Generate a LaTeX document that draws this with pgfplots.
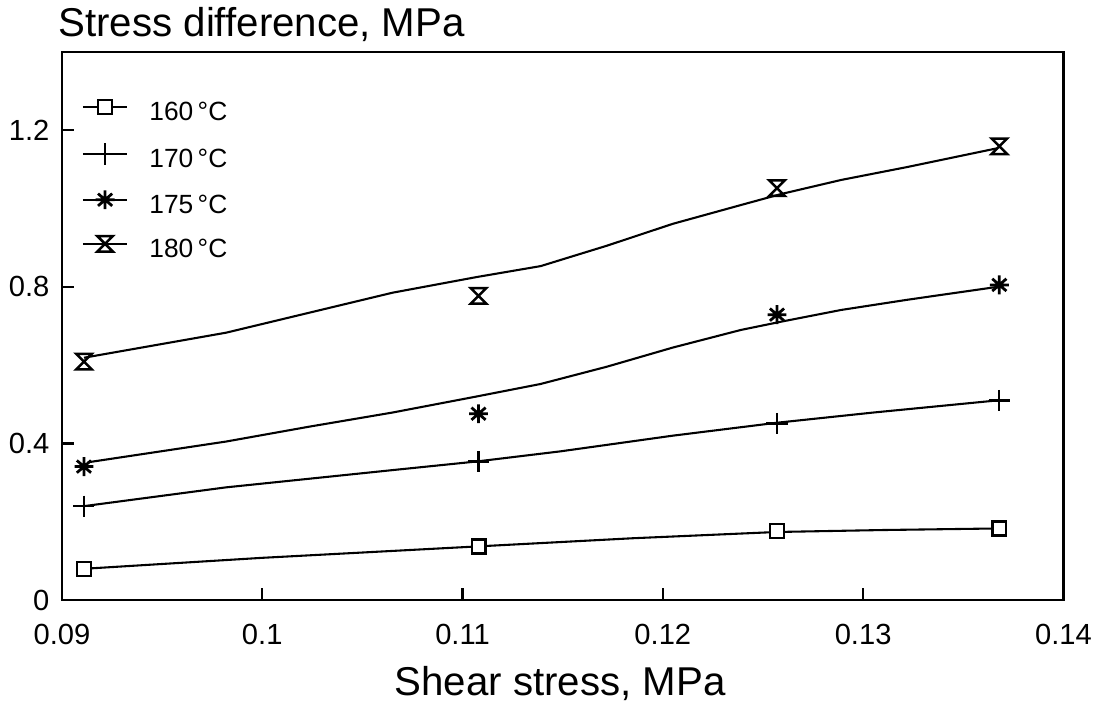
\documentclass[border=0pt]{standalone}
\usepackage{fontspec}
\setmainfont{Liberation Sans}
\usepackage{pgfplots}
\pgfplotsset{compat=1.18}

% hourglass marker: top bar, crossing diagonals, bottom bar
\pgfdeclareplotmark{hourglass}{%
  \pgfpathmoveto{\pgfqpoint{-\pgfplotmarksize}{\pgfplotmarksize}}%
  \pgfpathlineto{\pgfqpoint{\pgfplotmarksize}{\pgfplotmarksize}}%
  \pgfpathlineto{\pgfqpoint{-\pgfplotmarksize}{-\pgfplotmarksize}}%
  \pgfpathlineto{\pgfqpoint{\pgfplotmarksize}{-\pgfplotmarksize}}%
  \pgfpathclose
  \pgfusepathqstroke}

% eight-armed star marker
\pgfdeclareplotmark{star8}{%
  \pgfpathmoveto{\pgfqpoint{0pt}{\pgfplotmarksize}}%
  \pgfpathlineto{\pgfqpoint{0pt}{-\pgfplotmarksize}}%
  \pgfpathmoveto{\pgfqpoint{-\pgfplotmarksize}{0pt}}%
  \pgfpathlineto{\pgfqpoint{\pgfplotmarksize}{0pt}}%
  \pgfpathmoveto{\pgfqpoint{-0.75\pgfplotmarksize}{0.65\pgfplotmarksize}}%
  \pgfpathlineto{\pgfqpoint{0.75\pgfplotmarksize}{-0.65\pgfplotmarksize}}%
  \pgfpathmoveto{\pgfqpoint{-0.75\pgfplotmarksize}{-0.65\pgfplotmarksize}}%
  \pgfpathlineto{\pgfqpoint{0.75\pgfplotmarksize}{0.65\pgfplotmarksize}}%
  \pgfusepathqstroke}

\begin{document}
\begin{tikzpicture}
\begin{axis}[
  scale only axis, width=361.08pt, height=197.64pt,
  xmin=0.09, xmax=0.14, ymin=0, ymax=1.4,
  xtick={0.09,0.10,0.11,0.12,0.13,0.14},
  xticklabels={0.09,0.1,0.11,0.12,0.13,0.14},
  ytick={0,0.4,0.8,1.2}, yticklabels={0,0.4,0.8,1.2},
  tick align=inside, xtick pos=bottom, ytick pos=left,
  major tick length=4.3pt,
  every tick/.style={black, line width=0.8pt},
  axis line style={line width=0.9pt},
  tick label style={font=\fontsize{10.5}{12}\selectfont},
  xticklabel style={anchor=base, yshift=-15.84pt},
  yticklabel style={anchor=east, inner sep=0pt, xshift=-4.3pt},
  legend cell align=left,
  legend style={at={(axis description cs:0,1)}, anchor=north west,
    xshift=7.2pt, yshift=-17.4pt, draw=none, fill=none,
    inner sep=0pt, outer sep=0pt, row sep=6.1pt,
    nodes={inner sep=0pt, text height=7pt, text depth=2pt,
      font=\fontsize{9.5}{11}\selectfont},
    /tikz/every odd column/.append style={column sep=7.6pt}},
  legend image code/.code={%
    \draw[#1, yshift=2.5pt] (0pt,0pt) -- (16pt,0pt);
    \draw[#1, yshift=2.5pt, only marks] plot coordinates {(8pt,0pt)};},
]
% 160 C
\addplot[black, line width=0.75pt, forget plot] coordinates {
  (0.0911,0.080) (0.1000,0.108) (0.1107,0.137) (0.1185,0.158)
  (0.1257,0.174) (0.1310,0.179) (0.1367,0.183)};
\addplot[only marks, mark=square*, mark size=2.5pt,
  mark options={black, fill=white, line width=0.8pt}, forget plot] coordinates {
  (0.0911,0.079) (0.1108,0.137) (0.1257,0.176) (0.1368,0.183)};
% 170 C
\addplot[black, line width=0.75pt, forget plot] coordinates {
  (0.0911,0.240) (0.0982,0.288) (0.1065,0.332) (0.1107,0.354)
  (0.1149,0.380) (0.1205,0.420) (0.1257,0.453) (0.1305,0.479) (0.1367,0.510)};
\addplot[only marks, mark=+, mark size=3.8pt,
  mark options={black, line width=0.8pt}, forget plot] coordinates {
  (0.0911,0.240) (0.1108,0.354) (0.1257,0.451) (0.1368,0.510)};
% 175 C
\addplot[black, line width=0.75pt, forget plot] coordinates {
  (0.0913,0.352) (0.0982,0.405) (0.10235,0.443) (0.1065,0.479)
  (0.1107,0.520) (0.1139,0.552) (0.1172,0.596) (0.1205,0.645)
  (0.1239,0.690) (0.1259,0.711) (0.1289,0.741) (0.1322,0.767) (0.1367,0.800)};
\addplot[only marks, mark=star8, mark size=3.4pt,
  mark options={black, line width=1pt}, forget plot] coordinates {
  (0.0911,0.341) (0.1108,0.476) (0.1257,0.729) (0.1368,0.805)};
% 180 C
\addplot[black, line width=0.75pt, forget plot] coordinates {
  (0.0911,0.619) (0.0982,0.683) (0.10235,0.734) (0.1065,0.785)
  (0.1107,0.825) (0.1139,0.853) (0.1172,0.905) (0.1205,0.961)
  (0.1239,1.009) (0.1259,1.037) (0.1289,1.073) (0.1322,1.106) (0.1367,1.154)};
\addplot[only marks, mark=hourglass, mark size=2.8pt,
  mark options={black, line width=0.9pt}, forget plot] coordinates {
  (0.0911,0.609) (0.1108,0.777) (0.1257,1.052) (0.1368,1.159)};

\addlegendimage{black, line width=0.75pt, mark=square*, mark size=2.5pt,
  mark options={fill=white, line width=0.8pt}}
\addlegendentry{160\,°C}
\addlegendimage{black, line width=0.75pt, mark=+, mark size=3.8pt,
  mark options={line width=0.8pt}}
\addlegendentry{170\,°C}
\addlegendimage{black, line width=0.75pt, mark=star8, mark size=3.4pt,
  mark options={line width=1pt}}
\addlegendentry{175\,°C}
\addlegendimage{black, line width=0.75pt, mark=hourglass, mark size=2.8pt,
  mark options={line width=0.9pt}}
\addlegendentry{180\,°C}
\end{axis}
% titles
\node[anchor=base west, inner sep=0pt, font=\fontsize{14.5}{17}\selectfont]
  at ([shift={(-1.4pt,5.4pt)}]current axis.north west) {Stress difference, MPa};
\node[anchor=base, inner sep=0pt, font=\fontsize{14.5}{17}\selectfont]
  at ([shift={(-0.9pt,-34.56pt)}]current axis.south) {Shear stress, MPa};
% page frame
\path ([shift={(-22.32pt,-37.8pt)}]current axis.south west)
  rectangle ([shift={(12.96pt,18.72pt)}]current axis.north east);
\end{tikzpicture}
\end{document}
